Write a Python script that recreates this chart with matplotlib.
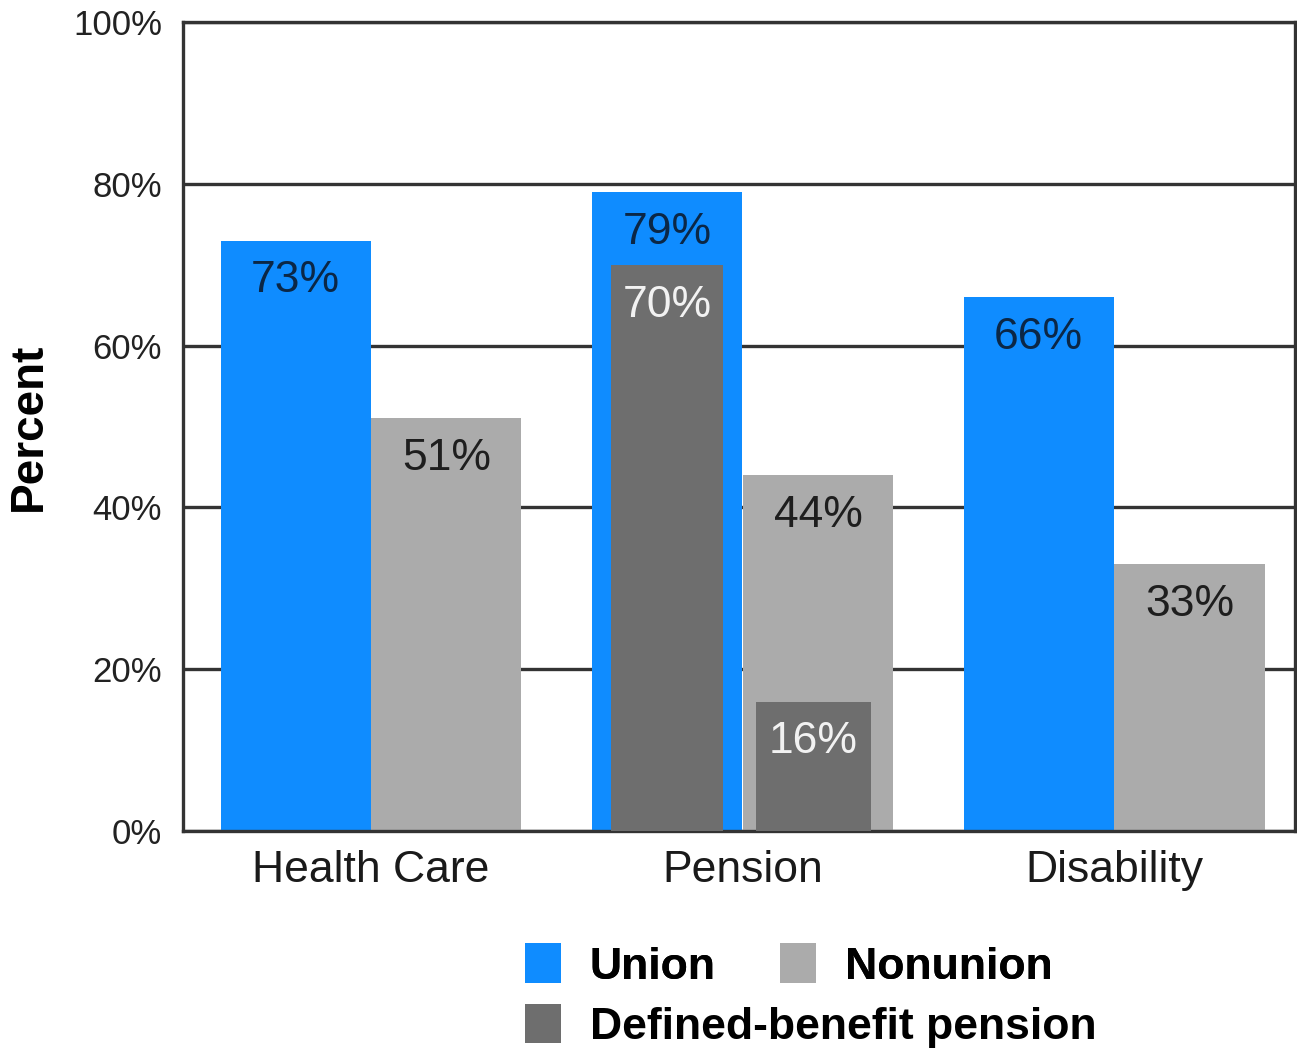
import matplotlib.pyplot as plt
import numpy as np

plt.rcParams['font.family'] = ['Liberation Sans', 'DejaVu Sans']

categories = ['Health Care', 'Pension', 'Disability']
union = [73, 79, 66]
nonunion = [51, 44, 33]
# defined-benefit share only exists for the pension group
db_union = [70]
db_nonunion = [16]
y_ticks = [0, 20, 40, 60, 80, 100]

c_union = '#0f8cff'
c_nonunion = '#ababab'
c_db = '#6e6e6e'
c_line = '#333333'

fig = plt.figure(figsize=(12.97, 10.53), dpi=100)
ax = fig.add_axes([0.1411, 0.2108, 0.8574, 0.7682])

x = np.arange(len(categories))
w = 0.404
off = 0.203

b_u = ax.bar(x - off, union, w, color=c_union, zorder=2, label='Union')
b_n = ax.bar(x + off, nonunion, w, color=c_nonunion, zorder=2, label='Nonunion')
b_du = ax.bar([1 - off], db_union, 0.30, color=c_db, zorder=3, label='Defined-benefit pension')
b_dn = ax.bar([1 + 0.19], db_nonunion, 0.31, color=c_db, zorder=3)

def label_bars(bars, vals, color):
    for b, v in zip(bars, vals):
        ax.annotate(f'{v}%', (b.get_x() + b.get_width() / 2, v),
                    xytext=(0, -29), textcoords='offset points',
                    ha='center', va='center', fontsize=32, color=color, zorder=4)

label_bars(b_u, union, '#0b2746')
label_bars(b_n, nonunion, '#1e1e1e')
label_bars(b_du, db_union, '#f2f2f2')
label_bars(b_dn, db_nonunion, '#f2f2f2')

ax.set_xlim(-0.506, 2.487)
ax.set_ylim(0, 100)
ax.set_yticks(y_ticks)
ax.set_yticklabels([f'{t}%' for t in y_ticks], fontsize=25, color='#222222')
ax.set_xticks(x)
ax.set_xticklabels(categories, fontsize=32, color='#1a1a1a')
ax.tick_params(axis='both', length=0)
ax.tick_params(axis='y', pad=15)
ax.tick_params(axis='x', pad=14)

ax.yaxis.grid(True, color=c_line, linewidth=2.4, zorder=1)
ax.set_axisbelow(True)
for s in ax.spines.values():
    s.set_color(c_line)
    s.set_linewidth(2.4)

ax.set_ylabel('Percent', fontsize=33, fontweight='bold', labelpad=16)

leg_kw = dict(loc='upper left', frameon=False, prop={'size': 32, 'weight': 'bold'},
              handlelength=0.8, handleheight=1.0, handletextpad=0.65,
              borderpad=0, borderaxespad=0)
leg1 = fig.legend([b_u, b_n], ['Union', 'Nonunion'], ncol=2,
                  bbox_to_anchor=(0.405, 0.104), columnspacing=1.45, **leg_kw)
fig.add_artist(leg1)
fig.legend([b_du], ['Defined-benefit pension'],
           bbox_to_anchor=(0.405, 0.047), **leg_kw)

fig.savefig('out.png', dpi=100)
